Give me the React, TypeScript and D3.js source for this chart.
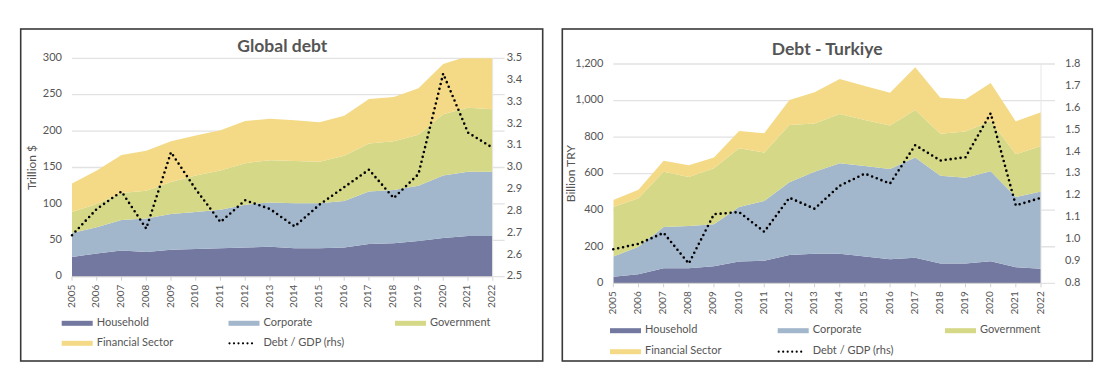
import React from 'react'
import * as d3 from 'd3'

// ── Data ─────────────────────────────────────────────────────────────────────
const YEARS = [2005, 2006, 2007, 2008, 2009, 2010, 2011, 2012, 2013, 2014, 2015, 2016, 2017, 2018, 2019, 2020, 2021, 2022]

const SERIES_NAMES = ['Household', 'Corporate', 'Government', 'Financial Sector']
const SERIES_COLORS = ['#72789f', '#a2b6cc', '#d4d887', '#f4da86']
const RATIO_NAME = 'Debt / GDP (rhs)'

// Global debt, trillion $
const GLOBAL_HOUSEHOLD = [27, 32, 36, 34, 37, 38, 39, 40, 41, 39, 39, 40, 45, 46, 49, 53, 56, 56]
const GLOBAL_CORPORATE = [33, 36, 42, 46, 49, 51, 53, 59, 61, 62, 62, 64, 72, 73, 76, 86, 88, 88]
const GLOBAL_GOVERNMENT = [29, 32, 37, 38, 44, 50, 54, 57, 58, 58, 57, 62, 66, 67, 70, 84, 88, 86]
const GLOBAL_FINANCIAL = [39, 46, 52, 55, 56, 55, 55, 58, 57, 56, 54, 55, 61, 61, 64, 69, 71, 72]
const GLOBAL_RATIO = [2.69, 2.81, 2.89, 2.72, 3.07, 2.9, 2.75, 2.85, 2.81, 2.73, 2.83, 2.91, 2.99, 2.86, 2.97, 3.43, 3.16, 3.09]
const GLOBAL_LEFT_TICKS = [0, 50, 100, 150, 200, 250, 300]
const GLOBAL_RIGHT_TICKS = [2.5, 2.6, 2.7, 2.8, 2.9, 3.0, 3.1, 3.2, 3.3, 3.4, 3.5]

// Turkiye debt, billion TRY
const TR_HOUSEHOLD = [36, 49, 82, 82, 93, 119, 124, 155, 162, 162, 146, 131, 140, 108, 108, 120, 88, 80]
const TR_CORPORATE = [110, 151, 226, 232, 230, 299, 326, 398, 449, 495, 496, 495, 548, 481, 470, 493, 384, 422]
const TR_GOVERNMENT = [272, 265, 303, 268, 306, 321, 265, 313, 263, 269, 252, 237, 260, 230, 252, 275, 234, 249]
const TR_FINANCIAL = [38, 47, 60, 64, 60, 94, 106, 137, 171, 192, 186, 180, 234, 197, 177, 208, 180, 185]
const TR_RATIO = [0.955, 0.98, 1.03, 0.89, 1.115, 1.125, 1.035, 1.19, 1.14, 1.245, 1.3, 1.255, 1.43, 1.36, 1.375, 1.575, 1.155, 1.19]
const TR_LEFT_TICKS = [0, 200, 400, 600, 800, 1000, 1200]
const TR_RIGHT_TICKS = [0.8, 0.9, 1.0, 1.1, 1.2, 1.3, 1.4, 1.5, 1.6, 1.7, 1.8]

const FONT = 'Lato, "Open Sans", sans-serif'
const TEXT = '#555'
const GRID = '#e2e2e2'

type Box = { x0: number; x1: number; y0: number; y1: number }

interface ChartProps {
  id: string
  frame: Box
  plot: Box // y0 = top, y1 = bottom (axis)
  title: string
  titleY: number
  yTitle: string
  yTitleX: number
  leftTicks: number[]
  leftFormat: (v: number) => string
  rightTicks: number[]
  series: number[][]
  ratio: number[]
  gridExtra: number
  rightLabelGap: number
  legendRows: [number, number]
  legendCols: [number, number, number]
}

function DebtChart(p: ChartProps) {
  const x = d3.scaleLinear().domain([YEARS[0], YEARS[YEARS.length - 1]]).range([p.plot.x0, p.plot.x1])
  const y = d3.scaleLinear().domain(d3.extent(p.leftTicks) as [number, number]).range([p.plot.y1, p.plot.y0])
  const yR = d3.scaleLinear().domain(d3.extent(p.rightTicks) as [number, number]).range([p.plot.y1, p.plot.y0])

  const table = YEARS.map((year, i) => {
    const row: Record<string, number> = { year }
    SERIES_NAMES.forEach((n, k) => (row[n] = p.series[k][i]))
    return row
  })
  const stacked = d3.stack<Record<string, number>>().keys(SERIES_NAMES)(table)
  const area = d3.area<d3.SeriesPoint<Record<string, number>>>()
    .x((d) => x(d.data.year))
    .y0((d) => y(d[0]))
    .y1((d) => y(d[1]))
  const line = d3.line<number>().x((_, i) => x(YEARS[i])).y((d) => yR(d))

  const clipId = `clip-${p.id}`
  const legendItems = [
    { name: SERIES_NAMES[0], color: SERIES_COLORS[0], col: 0, row: 0 },
    { name: SERIES_NAMES[1], color: SERIES_COLORS[1], col: 1, row: 0 },
    { name: SERIES_NAMES[2], color: SERIES_COLORS[2], col: 2, row: 0 },
    { name: SERIES_NAMES[3], color: SERIES_COLORS[3], col: 0, row: 1 },
    { name: RATIO_NAME, color: null, col: 1, row: 1 },
  ]

  return (
    <g fontFamily={FONT}>
      <rect
        x={p.frame.x0} y={p.frame.y0}
        width={p.frame.x1 - p.frame.x0} height={p.frame.y1 - p.frame.y0}
        fill="#fff" stroke="#3a3a3a" strokeWidth={1.6}
      />
      <defs>
        <clipPath id={clipId}>
          <rect x={p.plot.x0} y={p.plot.y0} width={p.plot.x1 - p.plot.x0} height={p.plot.y1 - p.plot.y0} />
        </clipPath>
      </defs>

      {/* grid */}
      {p.leftTicks.map((t) => (
        <line key={t} x1={p.plot.x0} x2={p.plot.x1 + p.gridExtra} y1={y(t)} y2={y(t)} stroke={GRID} strokeWidth={1.3} />
      ))}

      {/* areas */}
      <g clipPath={`url(#${clipId})`}>
        {stacked.map((s, k) => (
          <path key={s.key} d={area(s) ?? ''} fill={SERIES_COLORS[k]} />
        ))}
      </g>

      {/* x axis */}
      <line x1={p.plot.x0} x2={p.plot.x1} y1={p.plot.y1} y2={p.plot.y1} stroke="#d0d0d0" strokeWidth={1} />
      {YEARS.map((yr) => (
        <g key={yr}>
          <line x1={x(yr)} x2={x(yr)} y1={p.plot.y1} y2={p.plot.y1 + 4} stroke="#d0d0d0" />
          <text
            transform={`translate(${x(yr)},${p.plot.y1 + 8}) rotate(-90)`}
            textAnchor="end" dominantBaseline="middle"
            fontSize={10} fill={TEXT}
          >{yr}</text>
        </g>
      ))}
      <line x1={p.plot.x1} x2={p.plot.x1} y1={p.plot.y0} y2={p.plot.y1 + 4} stroke="#e6e6e6" />

      {/* left axis labels */}
      {p.leftTicks.map((t) => (
        <text key={t} x={p.plot.x0 - 10} y={y(t)} textAnchor="end" dominantBaseline="middle" fontSize={11} fill={TEXT}>
          {p.leftFormat(t)}
        </text>
      ))}
      {/* right axis labels */}
      {p.rightTicks.map((t) => (
        <text key={t} x={p.plot.x1 + p.rightLabelGap} y={yR(t)} dominantBaseline="middle" fontSize={11} fill={TEXT}>
          {d3.format('.1f')(t)}
        </text>
      ))}

      {/* ratio line */}
      <path
        d={line(p.ratio) ?? ''} fill="none" stroke="#000"
        strokeWidth={2.6} strokeDasharray="0 5" strokeLinecap="round"
      />

      {/* titles */}
      <text x={(p.plot.x0 + p.plot.x1) / 2} y={p.titleY} textAnchor="middle" fontSize={17.5} fontWeight={700} fill="#555">
        {p.title}
      </text>
      <text
        transform={`translate(${p.yTitleX},${(p.plot.y0 + p.plot.y1) / 2}) rotate(-90)`}
        textAnchor="middle" dominantBaseline="middle" fontSize={12} fill={TEXT}
      >{p.yTitle}</text>

      {/* legend */}
      {legendItems.map((it) => {
        const lx = p.legendCols[it.col]
        const ly = p.legendRows[it.row]
        return (
          <g key={it.name}>
            {it.color ? (
              <rect x={lx} y={ly - 2.5} width={31} height={5} fill={it.color} />
            ) : (
              <line x1={lx + 1} x2={lx + 28} y1={ly} y2={ly} stroke="#000" strokeWidth={2.2} strokeDasharray="0 4.5" strokeLinecap="round" />
            )}
            <text x={lx + 35} y={ly} dominantBaseline="middle" fontSize={11} fill={TEXT}>{it.name}</text>
          </g>
        )
      })}
    </g>
  )
}

export default function App() {
  return (
    <svg width={1113} height={387} style={{ position: 'absolute', left: 0, top: 0, background: '#fff' }}>
      <DebtChart
        id="global"
        frame={{ x0: 20.7, x1: 542.7, y0: 29, y1: 361 }}
        plot={{ x0: 72, x1: 492.7, y0: 58.3, y1: 276.7 }}
        title="Global debt"
        titleY={52}
        yTitle="Trillion $"
        yTitleX={33}
        leftTicks={GLOBAL_LEFT_TICKS}
        leftFormat={d3.format('d')}
        rightTicks={GLOBAL_RIGHT_TICKS}
        series={[GLOBAL_HOUSEHOLD, GLOBAL_CORPORATE, GLOBAL_GOVERNMENT, GLOBAL_FINANCIAL]}
        ratio={GLOBAL_RATIO}
        gridExtra={12}
        rightLabelGap={14}
        legendRows={[323.3, 343.3]}
        legendCols={[61.7, 228.5, 395]}
      />
      <DebtChart
        id="turkiye"
        frame={{ x0: 562.3, x1: 1092.3, y0: 29, y1: 361 }}
        plot={{ x0: 613.3, x1: 1041, y0: 64, y1: 283.3 }}
        title="Debt - Turkiye"
        titleY={55}
        yTitle="Billion TRY"
        yTitleX={572}
        leftTicks={TR_LEFT_TICKS}
        leftFormat={d3.format(',')}
        rightTicks={TR_RIGHT_TICKS}
        series={[TR_HOUSEHOLD, TR_CORPORATE, TR_GOVERNMENT, TR_FINANCIAL]}
        ratio={TR_RATIO}
        gridExtra={14}
        rightLabelGap={24}
        legendRows={[330.7, 351.7]}
        legendCols={[610, 777.7, 945]}
      />
    </svg>
  )
}
